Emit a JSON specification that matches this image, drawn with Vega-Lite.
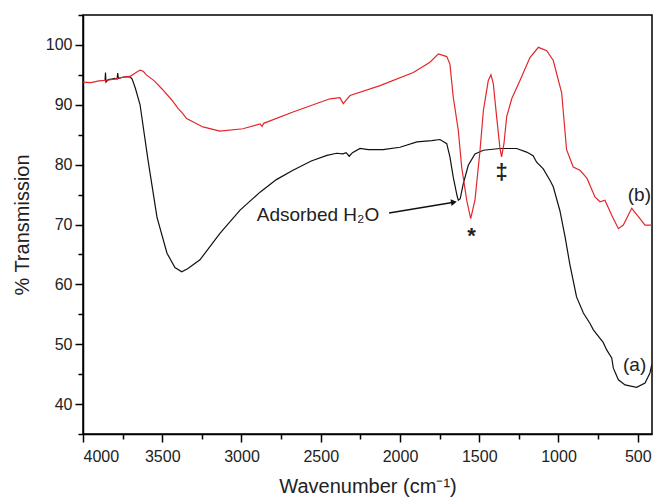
{
  "$schema": "https://vega.github.io/schema/vega-lite/v6.json",
  "width": 569,
  "height": 419,
  "autosize": {"type": "none"},
  "padding": {"left": 83, "top": 15, "right": 1, "bottom": 68},
  "background": "white",
  "resolve": {"axis": {"y": "independent"}},
  "config": {
    "view": {"stroke": "#000", "strokeWidth": 1.5},
    "font": "Liberation Sans",
    "axis": {"grid": false, "domainColor": "#000", "domainWidth": 1.5, "tickColor": "#000", "tickWidth": 1.5, "labelColor": "#222", "titleColor": "#222", "labelFont": "Liberation Sans", "titleFont": "Liberation Sans", "labelFontSize": 16, "titleFontSize": 20, "titleFontWeight": "normal", "labelOverlap": false, "labelBound": false}
  },
  "datasets": {
    "spectra": [
      {"w": 3861, "t": 94.0, "s": "a"}, {"w": 3858, "t": 95.4, "s": "a"}, {"w": 3855, "t": 93.8, "s": "a"}, {"w": 3840, "t": 94.2, "s": "a"}, {"w": 3820, "t": 94.3, "s": "a"}, {"w": 3800, "t": 94.4, "s": "a"}, {"w": 3785, "t": 94.3, "s": "a"}, {"w": 3781, "t": 95.3, "s": "a"}, {"w": 3777, "t": 94.4, "s": "a"}, {"w": 3750, "t": 94.6, "s": "a"}, {"w": 3720, "t": 94.7, "s": "a"}, {"w": 3700, "t": 94.6, "s": "a"}, {"w": 3690, "t": 94.3, "s": "a"}, {"w": 3670, "t": 92.8, "s": "a"}, {"w": 3640, "t": 90.0, "s": "a"}, {"w": 3590, "t": 80.8, "s": "a"}, {"w": 3533, "t": 71.2, "s": "a"}, {"w": 3470, "t": 65.2, "s": "a"}, {"w": 3420, "t": 62.8, "s": "a"}, {"w": 3377, "t": 62.1, "s": "a"}, {"w": 3340, "t": 62.6, "s": "a"}, {"w": 3262, "t": 64.1, "s": "a"}, {"w": 3136, "t": 68.5, "s": "a"}, {"w": 3009, "t": 72.4, "s": "a"}, {"w": 2883, "t": 75.4, "s": "a"}, {"w": 2780, "t": 77.5, "s": "a"}, {"w": 2675, "t": 79.05, "s": "a"}, {"w": 2560, "t": 80.6, "s": "a"}, {"w": 2461, "t": 81.55, "s": "a"}, {"w": 2400, "t": 81.9, "s": "a"}, {"w": 2360, "t": 81.8, "s": "a"}, {"w": 2340, "t": 82.0, "s": "a"}, {"w": 2320, "t": 81.4, "s": "a"}, {"w": 2300, "t": 82.0, "s": "a"}, {"w": 2252, "t": 82.7, "s": "a"}, {"w": 2200, "t": 82.5, "s": "a"}, {"w": 2107, "t": 82.5, "s": "a"}, {"w": 2000, "t": 82.9, "s": "a"}, {"w": 1893, "t": 83.8, "s": "a"}, {"w": 1800, "t": 84.0, "s": "a"}, {"w": 1748, "t": 84.2, "s": "a"}, {"w": 1705, "t": 83.5, "s": "a"}, {"w": 1685, "t": 81.3, "s": "a"}, {"w": 1664, "t": 77.9, "s": "a"}, {"w": 1640, "t": 74.8, "s": "a"}, {"w": 1632, "t": 74.05, "s": "a"}, {"w": 1620, "t": 74.3, "s": "a"}, {"w": 1601, "t": 76.8, "s": "a"}, {"w": 1569, "t": 79.9, "s": "a"}, {"w": 1527, "t": 81.8, "s": "a"}, {"w": 1474, "t": 82.4, "s": "a"}, {"w": 1369, "t": 82.7, "s": "a"}, {"w": 1264, "t": 82.7, "s": "a"}, {"w": 1201, "t": 82.1, "s": "a"}, {"w": 1160, "t": 81.5, "s": "a"}, {"w": 1138, "t": 80.4, "s": "a"}, {"w": 1096, "t": 79.3, "s": "a"}, {"w": 1054, "t": 77.4, "s": "a"}, {"w": 1033, "t": 76.3, "s": "a"}, {"w": 991, "t": 72.3, "s": "a"}, {"w": 959, "t": 68.0, "s": "a"}, {"w": 928, "t": 63.3, "s": "a"}, {"w": 886, "t": 57.9, "s": "a"}, {"w": 843, "t": 55.2, "s": "a"}, {"w": 802, "t": 53.5, "s": "a"}, {"w": 780, "t": 52.4, "s": "a"}, {"w": 718, "t": 50.3, "s": "a"}, {"w": 696, "t": 49.05, "s": "a"}, {"w": 664, "t": 47.7, "s": "a"}, {"w": 654, "t": 46.0, "s": "a"}, {"w": 622, "t": 44.05, "s": "a"}, {"w": 580, "t": 43.2, "s": "a"}, {"w": 507, "t": 42.8, "s": "a"}, {"w": 454, "t": 43.5, "s": "a"}, {"w": 423, "t": 45.2, "s": "a"}, {"w": 412, "t": 46.5, "s": "a"},
      {"w": 4000, "t": 93.8, "s": "b"}, {"w": 3950, "t": 93.7, "s": "b"}, {"w": 3900, "t": 94.0, "s": "b"}, {"w": 3850, "t": 94.1, "s": "b"}, {"w": 3800, "t": 94.3, "s": "b"}, {"w": 3750, "t": 94.6, "s": "b"}, {"w": 3700, "t": 94.8, "s": "b"}, {"w": 3670, "t": 95.3, "s": "b"}, {"w": 3640, "t": 95.8, "s": "b"}, {"w": 3620, "t": 95.6, "s": "b"}, {"w": 3600, "t": 95.0, "s": "b"}, {"w": 3550, "t": 94.0, "s": "b"}, {"w": 3500, "t": 92.6, "s": "b"}, {"w": 3440, "t": 90.8, "s": "b"}, {"w": 3400, "t": 89.4, "s": "b"}, {"w": 3369, "t": 88.5, "s": "b"}, {"w": 3346, "t": 87.7, "s": "b"}, {"w": 3243, "t": 86.3, "s": "b"}, {"w": 3136, "t": 85.6, "s": "b"}, {"w": 2991, "t": 86.0, "s": "b"}, {"w": 2883, "t": 86.8, "s": "b"}, {"w": 2870, "t": 86.4, "s": "b"}, {"w": 2860, "t": 86.9, "s": "b"}, {"w": 2675, "t": 88.8, "s": "b"}, {"w": 2442, "t": 91.0, "s": "b"}, {"w": 2379, "t": 91.2, "s": "b"}, {"w": 2358, "t": 90.2, "s": "b"}, {"w": 2345, "t": 90.6, "s": "b"}, {"w": 2315, "t": 91.55, "s": "b"}, {"w": 2126, "t": 93.2, "s": "b"}, {"w": 1916, "t": 95.4, "s": "b"}, {"w": 1811, "t": 97.1, "s": "b"}, {"w": 1758, "t": 98.5, "s": "b"}, {"w": 1705, "t": 98.05, "s": "b"}, {"w": 1685, "t": 96.8, "s": "b"}, {"w": 1664, "t": 91.3, "s": "b"}, {"w": 1632, "t": 85.7, "s": "b"}, {"w": 1611, "t": 79.6, "s": "b"}, {"w": 1579, "t": 74.05, "s": "b"}, {"w": 1554, "t": 71.0, "s": "b"}, {"w": 1527, "t": 74.05, "s": "b"}, {"w": 1495, "t": 82.4, "s": "b"}, {"w": 1474, "t": 89.0, "s": "b"}, {"w": 1443, "t": 94.05, "s": "b"}, {"w": 1426, "t": 95.0, "s": "b"}, {"w": 1411, "t": 93.5, "s": "b"}, {"w": 1390, "t": 87.9, "s": "b"}, {"w": 1369, "t": 82.7, "s": "b"}, {"w": 1359, "t": 81.3, "s": "b"}, {"w": 1344, "t": 83.5, "s": "b"}, {"w": 1327, "t": 88.0, "s": "b"}, {"w": 1295, "t": 91.0, "s": "b"}, {"w": 1243, "t": 94.05, "s": "b"}, {"w": 1180, "t": 97.9, "s": "b"}, {"w": 1127, "t": 99.6, "s": "b"}, {"w": 1074, "t": 99.05, "s": "b"}, {"w": 1033, "t": 97.4, "s": "b"}, {"w": 980, "t": 92.0, "s": "b"}, {"w": 949, "t": 82.5, "s": "b"}, {"w": 907, "t": 79.6, "s": "b"}, {"w": 864, "t": 79.05, "s": "b"}, {"w": 820, "t": 77.7, "s": "b"}, {"w": 770, "t": 74.6, "s": "b"}, {"w": 738, "t": 73.8, "s": "b"}, {"w": 707, "t": 74.05, "s": "b"}, {"w": 664, "t": 71.55, "s": "b"}, {"w": 622, "t": 69.3, "s": "b"}, {"w": 591, "t": 69.9, "s": "b"}, {"w": 538, "t": 72.7, "s": "b"}, {"w": 496, "t": 71.3, "s": "b"}, {"w": 454, "t": 69.9, "s": "b"}, {"w": 412, "t": 69.9, "s": "b"}
    ],
    "notes": [
      {"w": 2904, "t": 70.6, "label": "Adsorbed H₂O"},
      {"w": 593, "t": 45.6, "label": "(a)"},
      {"w": 563, "t": 73.9, "label": "(b)"}
    ],
    "marks": [
      {"w": 1549, "t": 66.9, "label": "*"},
      {"w": 1359, "t": 77.6, "label": "‡"}
    ],
    "arrow": [
      {"w": 2069, "t": 71.93, "w2": 1660, "t2": 73.72}
    ]
  },
  "layer": [
    {
      "data": {"name": "spectra"},
      "mark": {"type": "line", "strokeWidth": 1.2, "clip": true},
      "encoding": {
        "x": {"field": "w", "type": "quantitative", "title": "Wavenumber (cm⁻¹)",
          "scale": {"domain": [410, 4000], "reverse": true, "nice": false, "zero": false},
          "axis": {"values": [4000, 3750, 3500, 3250, 3000, 2750, 2500, 2250, 2000, 1750, 1500, 1250, 1000, 750, 500],
            "labelExpr": "datum.value % 500 === 0 ? datum.label : ''",
            "tickSize": {"condition": {"test": "datum.value % 500 === 0", "value": 8}, "value": 5},
            "labelPadding": 6, "titlePadding": 12, "format": "d"}},
        "y": {"field": "t", "type": "quantitative", "title": "% Transmission",
          "scale": {"domain": [35, 105], "nice": false, "zero": false},
          "axis": {"orient": "left", "values": [40, 50, 60, 70, 80, 90, 100], "format": "d",
            "tickSize": 8, "labelPadding": 3, "titlePadding": 13}},
        "color": {"field": "s", "type": "nominal", "scale": {"domain": ["a", "b"], "range": ["#111111", "#e3262a"]}, "legend": null},
        "detail": {"field": "s"}
      }
    },
    {
      "data": {"name": "arrow"},
      "mark": {"type": "rule", "color": "#111", "strokeWidth": 1.4},
      "encoding": {
        "x": {"field": "w", "type": "quantitative"},
        "y": {"field": "t", "type": "quantitative",
          "axis": {"orient": "left", "values": [35, 45, 55, 65, 75, 85, 95, 105], "labels": false, "tickSize": 5, "domain": false, "title": null}},
        "x2": {"field": "w2"},
        "y2": {"field": "t2"}
      }
    },
    {
      "data": {"name": "arrow"},
      "mark": {"type": "point", "shape": "triangle-right", "filled": true, "color": "#111", "size": 45, "angle": -9, "opacity": 1},
      "encoding": {
        "x": {"field": "w2", "type": "quantitative"},
        "y": {"field": "t2", "type": "quantitative", "axis": null}
      }
    },
    {
      "data": {"name": "notes"},
      "mark": {"type": "text", "align": "left", "baseline": "alphabetic", "fontSize": 19, "font": "Liberation Sans", "color": "#222"},
      "encoding": {
        "x": {"field": "w", "type": "quantitative"},
        "y": {"field": "t", "type": "quantitative", "axis": null},
        "text": {"field": "label"}
      }
    },
    {
      "data": {"name": "marks"},
      "mark": {"type": "text", "align": "center", "baseline": "alphabetic", "fontSize": 22, "fontWeight": "bold", "font": "Liberation Sans", "color": "#222"},
      "encoding": {
        "x": {"field": "w", "type": "quantitative"},
        "y": {"field": "t", "type": "quantitative", "axis": null},
        "text": {"field": "label"}
      }
    }
  ]
}
